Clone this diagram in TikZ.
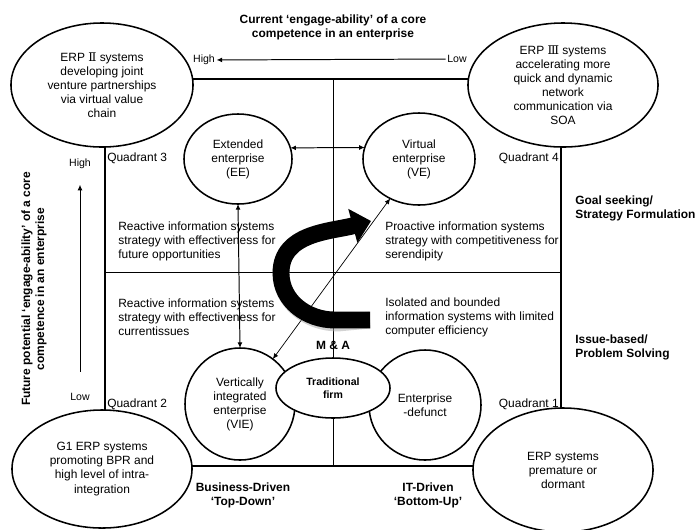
\documentclass[tikz,border=0pt]{standalone}
\usepackage{fontspec}
\setmainfont{Liberation Sans}
\newfontfamily\romanfont{DejaVu Serif}
\usepackage{tikz}
\usetikzlibrary{arrows.meta,shapes.geometric}

\begin{document}
\begin{tikzpicture}[x=0.025cm,y=-0.025cm,font=\fontsize{8.5}{10}\selectfont,
   >={Latex[length=4pt,width=3.5pt]},
   erp system/.style={ellipse,draw,line width=1.1pt,fill=white,align=center,inner sep=0pt,outer sep=0pt},
   firm type/.style={ellipse,draw,line width=1.1pt,fill=white,align=center,inner sep=0pt,outer sep=0pt},
   quadrant label/.style={inner sep=0pt},
   plain text/.style={align=left,anchor=west,inner sep=0pt},
   axis text/.style={font=\fontsize{8.5}{10}\selectfont\bfseries,align=center,inner sep=0pt},
   side text/.style={font=\fontsize{8.5}{10}\selectfont\bfseries,align=left,anchor=west,inner sep=0pt},
   scale label/.style={font=\fontsize{7.5}{9}\selectfont,inner sep=1pt},
   turn arrow/.style={line width=12pt,-{Triangle[length=0.47cm,width=0.85cm]}}]

  \useasboundingbox (0,0) rectangle (695,529);

  % frame and quadrants
  \draw[line width=1.3pt] (105,79) rectangle (561,466);
  \draw[line width=0.6pt] (333,79) -- (333,466);
  \draw[line width=0.6pt] (105,272) -- (561,272);

  % corner systems
  \node[erp system,minimum width=4.55cm,minimum height=3.1cm](erp2) at (102,85)
    {ERP {\romanfont Ⅱ} systems\\developing joint\\venture partnerships\\via virtual value\\chain};
  \node[erp system,minimum width=4.75cm,minimum height=3.1cm](erp3) at (563,85)
    {ERP {\romanfont Ⅲ} systems\\accelerating more\\quick and dynamic\\network\\communication via\\SOA};
  \node[erp system,minimum width=4.5cm,minimum height=2.95cm](g1) at (102,469)
    {G1 ERP systems\\promoting BPR and\\high level of intra-\\integration};
  \node[erp system,minimum width=4.5cm,minimum height=3.1cm](premature) at (563,470)
    {ERP systems\\premature or\\dormant};

  % enterprise types
  \node[firm type,minimum width=2.7cm,minimum height=2.25cm](ee) at (238,159)
    {Extended\\enterprise\\(EE)};
  \node[firm type,minimum width=2.8cm,minimum height=2.3cm](ve) at (419,159)
    {Virtual\\enterprise\\(VE)};
  \node[firm type,minimum width=2.75cm,minimum height=2.8cm](vie) at (240,404)
    {Vertically\\integrated\\enterprise\\(VIE)};
  \node[firm type,minimum width=2.8cm,minimum height=2.75cm](defunct) at (425,405)
    {Enterprise\\-defunct};
  \node[firm type,minimum width=2.85cm,minimum height=1.5cm,
        font=\fontsize{7.5}{9}\selectfont\bfseries](firm) at (333,388)
    {Traditional\\firm};

  % quadrant texts
  \node[quadrant label,anchor=west](q3) at (107,158) {Quadrant 3};
  \node[quadrant label,anchor=east](q4) at (559,158) {Quadrant 4};
  \node[quadrant label,anchor=west](q2) at (107,404) {Quadrant 2};
  \node[quadrant label,anchor=east](q1) at (559,404) {Quadrant 1};

  \node[plain text](future) at (118,241)
    {Reactive information systems\\strategy with effectiveness for\\future opportunities};
  \node[plain text](current) at (118,317)
    {Reactive information systems\\strategy with effectiveness for\\currentissues};
  \node[plain text](proactive) at (385,241)
    {Proactive information systems\\strategy with competitiveness for\\serendipity};
  \node[plain text](isolated) at (385,317)
    {Isolated and bounded\\information systems with limited\\computer efficiency};

  % axes
  \node[axis text](top title) at (333,27)
    {Current `engage-ability' of a core\\competence in an enterprise};
  \node[axis text,rotate=90](left title) at (34,289)
    {Future potential `engage-ability' of a core\\competence in an enterprise};
  \node[scale label](high top) at (204,60) {High};
  \node[scale label](low top) at (457,59) {Low};
  \node[scale label](high left) at (80,164) {High};
  \node[scale label](low left) at (80,397) {Low};

  \node[side text](goal) at (575,208) {Goal seeking/\\Strategy Formulation};
  \node[side text](issue) at (575,347) {Issue-based/\\Problem Solving};
  \node[axis text](business) at (243,495) {Business-Driven\\`Top-Down'};
  \node[axis text](it) at (428,495) {IT-Driven\\`Bottom-Up'};
  \node[axis text](ma) at (333,345) {M \& A};

  \draw[->,line width=0.7pt] (low top) -- (high top);
  \draw[->,line width=0.7pt,shorten >=10pt,shorten <=14pt] (low left) -- (high left);

  \draw[<->,line width=0.7pt] (ee.12) -- (ve.168);
  \draw[<->,line width=0.7pt] (ee.south) -- (vie.north);
  \draw[<->,line width=0.5pt] (vie) -- (ve);

  % big turn arrow
  \coordinate (tail) at (370,320);
  \coordinate (bend) at (281,273);
  \coordinate (head) at (371,221);
  \draw[turn arrow,black!35,opacity=0.5,shift={(3,3)}]
    (tail) -- (335,320) to[out=180,in=-90] (bend) to[out=90,in=195] (head);
  \draw[turn arrow]
    (tail) -- (335,320) to[out=180,in=-90] (bend) to[out=90,in=195] (head);
\end{tikzpicture}
\end{document}
